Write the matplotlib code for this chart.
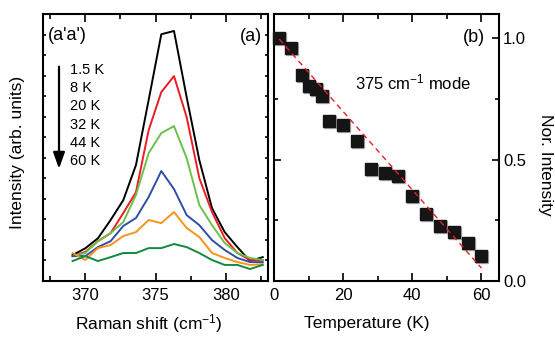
import matplotlib
matplotlib.use("Agg")
import matplotlib.pyplot as plt
from matplotlib.ticker import MultipleLocator, NullFormatter
import matplotlib.transforms as mtransforms

plt.rcParams['font.family'] = ['Liberation Sans', 'DejaVu Sans']
plt.rcParams['mathtext.fontset'] = 'custom'
plt.rcParams['mathtext.rm'] = 'Liberation Sans'
plt.rcParams['mathtext.it'] = 'Liberation Sans:italic'

# (a) Raman spectra, (a'a') polarisation
shift = [369.1, 370.0, 370.9, 371.8, 372.7, 373.6, 374.5, 375.4,
         376.3, 377.2, 378.1, 379.0, 379.9, 380.8, 381.7, 382.6]
temps_a = ["1.5 K", "8 K", "20 K", "32 K", "44 K", "60 K"]
i_1p5 = [1.25, 1.58, 2.07, 2.96, 3.93, 5.64, 8.81, 12.02, 12.18, 8.95, 5.88, 3.54, 2.37, 1.64, 0.96, 1.15]
i_8 = [1.20, 1.40, 1.93, 2.32, 3.30, 4.32, 7.34, 9.20, 9.98, 7.98, 5.00, 3.35, 2.08, 1.35, 1.01, 1.01]
i_20 = [1.20, 1.35, 1.93, 2.32, 2.86, 4.18, 6.22, 7.20, 7.54, 5.98, 3.69, 2.71, 1.84, 1.35, 1.11, 1.01]
i_32 = [1.20, 1.20, 1.64, 1.93, 2.67, 3.06, 4.08, 5.35, 4.47, 3.20, 2.71, 1.98, 1.50, 1.11, 0.91, 0.91]
i_44 = [1.35, 1.01, 1.59, 1.74, 2.18, 2.37, 2.96, 2.81, 3.35, 2.57, 2.13, 1.35, 1.11, 0.91, 0.77, 0.81]
i_60 = [0.96, 1.20, 0.96, 1.15, 1.35, 1.35, 1.59, 1.59, 1.79, 1.64, 1.35, 1.01, 0.77, 0.77, 0.57, 0.77]
spectra = [i_1p5, i_8, i_20, i_32, i_44, i_60]
colors = ["#000000", "#ec1c24", "#6cc04a", "#2f4fa6", "#f7941d", "#108a3c"]

# (b) normalised intensity of the 375 cm-1 mode
temp_b = [1.5, 5, 8, 10, 12, 14, 16, 20, 24, 28, 32, 36, 40, 44, 48, 52, 56, 60]
nor_int = [1.0, 0.959, 0.849, 0.804, 0.790, 0.763, 0.661, 0.644, 0.575, 0.462,
           0.445, 0.431, 0.349, 0.274, 0.226, 0.199, 0.155, 0.100]
fit_t = [1.5, 60]
fit_i = [0.997, 0.052]

fig = plt.figure(figsize=(5.55, 3.37), dpi=100)
ax1 = fig.add_axes([0.0775, 0.167, 0.406, 0.791])
ax2 = fig.add_axes([0.4937, 0.167, 0.405, 0.791])

for ax in (ax1, ax2):
    for sp in ax.spines.values():
        sp.set_linewidth(1.5)

# ---- panel (a)
for y, c in zip(spectra, colors):
    ax1.plot(shift, y, color=c, lw=1.4)
ax1.set_xlim(367, 383)
ax1.set_ylim(0, 13)
ax1.xaxis.set_major_locator(MultipleLocator(5))
ax1.xaxis.set_minor_locator(MultipleLocator(2.5))
ax1.yaxis.set_major_locator(MultipleLocator(1))
ax1.yaxis.set_major_formatter(NullFormatter())
ax1.tick_params(which="both", direction="in", top=True, right=True, width=1.2,
                labelsize=12, pad=5)
ax1.tick_params(axis="x", which="major", length=6)
ax1.tick_params(axis="x", which="minor", length=3.5)
ax1.tick_params(axis="y", which="major", length=2.5)
ax1.set_xlabel("Raman shift (cm$^{-1}$)", fontsize=12.5, va="center")
ax1.xaxis.set_label_coords(0.47, -0.159)
ax1.set_ylabel("Intensity (arb. units)", fontsize=12.5, va="center")
ax1.yaxis.set_label_coords(-0.115, 0.483)

ax1.text(0.022, 0.921, "(a'a')", transform=ax1.transAxes, fontsize=13, va="center", ha="left")
ax1.text(0.972, 0.918, "(a)", transform=ax1.transAxes, fontsize=13, va="center", ha="right")
for k, lab in enumerate(temps_a):
    ax1.text(0.12, 0.790 - 0.0682 * k, lab, transform=ax1.transAxes, fontsize=10.5,
             va="center", ha="left")
ax1.annotate("", xy=(0.071, 0.420), xytext=(0.071, 0.803), xycoords="axes fraction",
             arrowprops=dict(arrowstyle="-|>,head_length=0.7,head_width=0.25", lw=1.6,
                             color="k", shrinkA=0, shrinkB=0, mutation_scale=14))

# ---- panel (b)
shadow = mtransforms.offset_copy(ax2.transData, fig=fig, x=1, y=-1, units="dots")
ax2.plot(temp_b, nor_int, "s", ms=9, color="#b4b4b4", transform=shadow, clip_on=False)
ax2.plot(temp_b, nor_int, "s", ms=9, color="#151515", clip_on=False, zorder=3)
ax2.plot(fit_t, fit_i, "--", color="#ec1c24", lw=1.0, dashes=(4, 3), zorder=4)
ax2.set_xlim(0, 65)
ax2.set_ylim(0, 1.1)
ax2.xaxis.set_major_locator(MultipleLocator(20))
ax2.xaxis.set_minor_locator(MultipleLocator(10))
ax2.yaxis.set_major_locator(MultipleLocator(0.5))
ax2.yaxis.set_minor_locator(MultipleLocator(0.25))
ax2.tick_params(which="both", direction="in", top=True, right=True, left=True,
                labelleft=False, labelright=True, width=1.2, labelsize=12)
ax2.tick_params(axis="x", which="major", length=6, pad=5)
ax2.tick_params(axis="x", which="minor", length=3.5)
ax2.tick_params(axis="y", which="major", length=5, pad=3)
ax2.tick_params(axis="y", which="minor", length=3)
ax2.set_xlabel("Temperature (K)", fontsize=12.5, va="center")
ax2.xaxis.set_label_coords(0.414, -0.159)
ax2.yaxis.set_label_position("right")
ax2.set_ylabel("Nor. Intensity", fontsize=12.5, rotation=270, va="center")
ax2.yaxis.set_label_coords(1.206, 0.436)

ax2.text(0.939, 0.914, "(b)", transform=ax2.transAxes, fontsize=13, va="center", ha="right")
ax2.text(0.36, 0.742, "375 cm$^{-1}$ mode", transform=ax2.transAxes, fontsize=12,
         va="center", ha="left")

fig.savefig("out.png", dpi=100)
